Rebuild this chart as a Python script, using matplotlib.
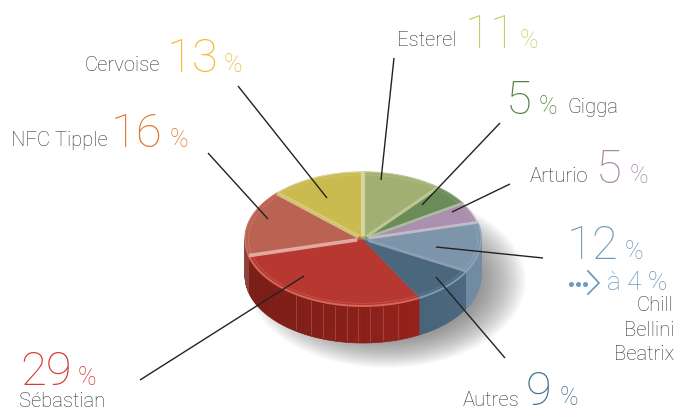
import numpy as np
import matplotlib
matplotlib.use('Agg')
import matplotlib.pyplot as plt
from matplotlib.patches import Ellipse
from matplotlib.colors import to_rgb

W, H = 676, 412

names = ['Sébastian', 'Autres', 'Chill', 'Arturio', 'Gigga', 'Esterel', 'Cervoise', 'NFC Tipple']
values = [29, 9, 12, 5, 5, 11, 13, 16]
top_colors = ['#b63831', '#4b677e', '#7c95aa', '#ab8fae', '#6a8c59', '#a1b072', '#c9bb4f', '#bb6353']
rim_colors = ['#d9685c', '#7f9bb0', '#8ea4b6', '#d8c8d8', '#8fa97f', '#b9c68f', '#d9d08c', '#c9786a']
side_colors = ['#7f1d17', '#3d5568', '#5b7083', '#8f7490', '#56734a', '#84925f', '#a69a42', '#96453a']
# pale line at the start of each slice
seam_colors = ['#eab9af', '#56708a', '#8fa3b4', '#c9c4c9', '#b5c5a5', '#c2ce9c', '#dcd9a5', '#d9cf80']
seam_widths = [2.6, 0.8, 2.0, 2.0, 1.8, 2.2, 3.0, 3.0]

rib_px = [296, 311, 323, 335, 347, 358, 370, 383, 398]

CX, CY, RX, RY, DEPTH = 363, 239, 118, 67, 37
START = 194.4

fig = plt.figure(figsize=(W / 100, H / 100), dpi=100)

# pie axes: one data unit is RX px across and RY px high, which gives the tilt
xl, yl = (-1.25, 1.25), (-2.0, 1.25)
ax = fig.add_axes([(CX + xl[0] * RX) / W, 1 - (CY - yl[0] * RY) / H,
                   (xl[1] - xl[0]) * RX / W, (yl[1] - yl[0]) * RY / H])

d = DEPTH / RY

# soft shadow
for i in range(24):
    ax.add_patch(Ellipse((0.2, -0.62), 2.36 - i * 0.035, 2.6 - i * 0.04, fc='#505050',
                         ec='none', alpha=0.036, zorder=1, clip_on=False))

# side wall from the slice angles
edges = START + np.cumsum([0] + values) * 3.6
for i in range(len(values)):
    th = np.linspace(edges[i], edges[i + 1], 60)
    base = np.array(to_rgb(side_colors[i]))
    for a, b in zip(th[:-1], th[1:]):
        if np.sin(np.radians(a)) > 0 and np.sin(np.radians(b)) > 0:
            continue
        ta = np.radians([a, b])
        xs, ys = np.cos(ta), np.sin(ta)
        shade = 0.95 + 0.3 * (xs.mean() + 1) / 2
        col = np.clip(base * shade, 0, 1)
        ax.fill([xs[0], xs[1], xs[1], xs[0]], [ys[0], ys[1], ys[1] - d, ys[0] - d],
                fc=col, ec=col, lw=0.5, zorder=2)

for px in rib_px:
    x = (px - CX) / RX
    y = -np.sqrt(1 - x ** 2)
    ax.plot([x, x], [y - 0.03, y - d + 0.03], color='white', alpha=0.16, lw=0.7, zorder=3)

wedges, _ = ax.pie(values, colors=top_colors, startangle=START, counterclock=True, radius=1)
for w, c in zip(wedges, top_colors):
    w.set_zorder(4)
    w.set_edgecolor(c)
    w.set_linewidth(0.5)
ax.set_aspect('auto')
ax.set_xlim(*xl)
ax.set_ylim(*yl)
ax.axis('off')

# rim and seams of the top face
for i in range(len(values)):
    th = np.radians(np.linspace(edges[i], edges[i + 1], 60))
    front = np.sin(th).mean() < 0
    ax.plot(np.cos(th), np.sin(th), color=rim_colors[i], lw=1.4 if front else 0.9, zorder=5)
    ax.plot(0.97 * np.cos(th), 0.96 * np.sin(th), color='white', alpha=0.14, lw=0.6, zorder=5)
    t0 = np.radians(edges[i])
    ax.plot([0.05 * np.cos(t0), np.cos(t0)], [0.05 * np.sin(t0), np.sin(t0)],
            color=seam_colors[i], lw=seam_widths[i], alpha=0.85, zorder=5, solid_capstyle='butt')

# overlay in pixel coordinates for leaders and labels
ov = fig.add_axes([0, 0, 1, 1], zorder=5)
ov.set_xlim(0, W)
ov.set_ylim(H, 0)
ov.axis('off')
ov.patch.set_alpha(0)

leader_x = [(238, 327), (394, 381), (500, 422), (510, 452), (543, 436), (505, 436), (140, 304), (208, 268)]
leader_y = [(86, 198), (58, 180), (123, 205), (184, 212), (258, 247), (358, 277), (380, 276), (153, 219)]
for lx, ly in zip(leader_x, leader_y):
    ov.plot(lx, ly, color='#222222', lw=1.0, solid_capstyle='butt')

FONT = 'Roboto'
GREY = '#333333'
NAME = 14.6
BIG = 34
UNIT = 18


def txt(x, y, s, size, color, ha='left', weight='light'):
    ov.text(x, y, s, fontsize=size, color=color, ha=ha, va='baseline', family=FONT, weight=weight)


txt(85, 71, 'Cervoise', NAME, GREY)
txt(167, 72, '13', BIG, '#f5b82e')
txt(224, 72, '%', UNIT, '#f5b82e')

txt(397, 46, 'Esterel', NAME, GREY)
txt(465, 48, '11', BIG, '#bfd068')
txt(520, 48, '%', UNIT, '#bfd068')

txt(506, 114, '5', BIG, '#558243')
txt(539, 114, '%', UNIT, '#558243')
txt(567, 113, 'Gigga', NAME, GREY)

txt(530, 182, 'Arturio', NAME, GREY)
txt(596, 183, '5', BIG, '#ab85aa')
txt(630, 183, '%', UNIT, '#ab85aa')

txt(11, 146, 'NFC Tipple', NAME, GREY)
txt(111, 147, '16', BIG, '#e0772f')
txt(170, 147, '%', UNIT, '#e0772f')

txt(567, 259, '12', BIG, '#6f9bbd')
txt(625, 259, '%', UNIT, '#6f9bbd')
ov.plot([571, 578, 585], [284, 284, 284], ls='none', marker='o', ms=2.6, color='#6f9bbd')
ov.plot([588, 599, 588], [271, 283, 294], color='#6f9bbd', lw=1.3)
txt(607, 290, 'à 4 %', 19, '#6f9bbd')
txt(674, 311, 'Chill', NAME, GREY, ha='right')
txt(674, 336, 'Bellini', NAME, GREY, ha='right')
txt(674, 360, 'Beatrix', NAME, GREY, ha='right')

txt(463, 406, 'Autres', NAME, GREY)
txt(526, 405, '9', BIG, '#44708f')
txt(560, 405, '%', UNIT, '#44708f')

txt(20, 385, '29', BIG, '#d53a36')
txt(78, 385, '%', UNIT, '#d53a36')
txt(19, 407, 'Sébastian', NAME, GREY)

fig.savefig('out.png', dpi=100)
